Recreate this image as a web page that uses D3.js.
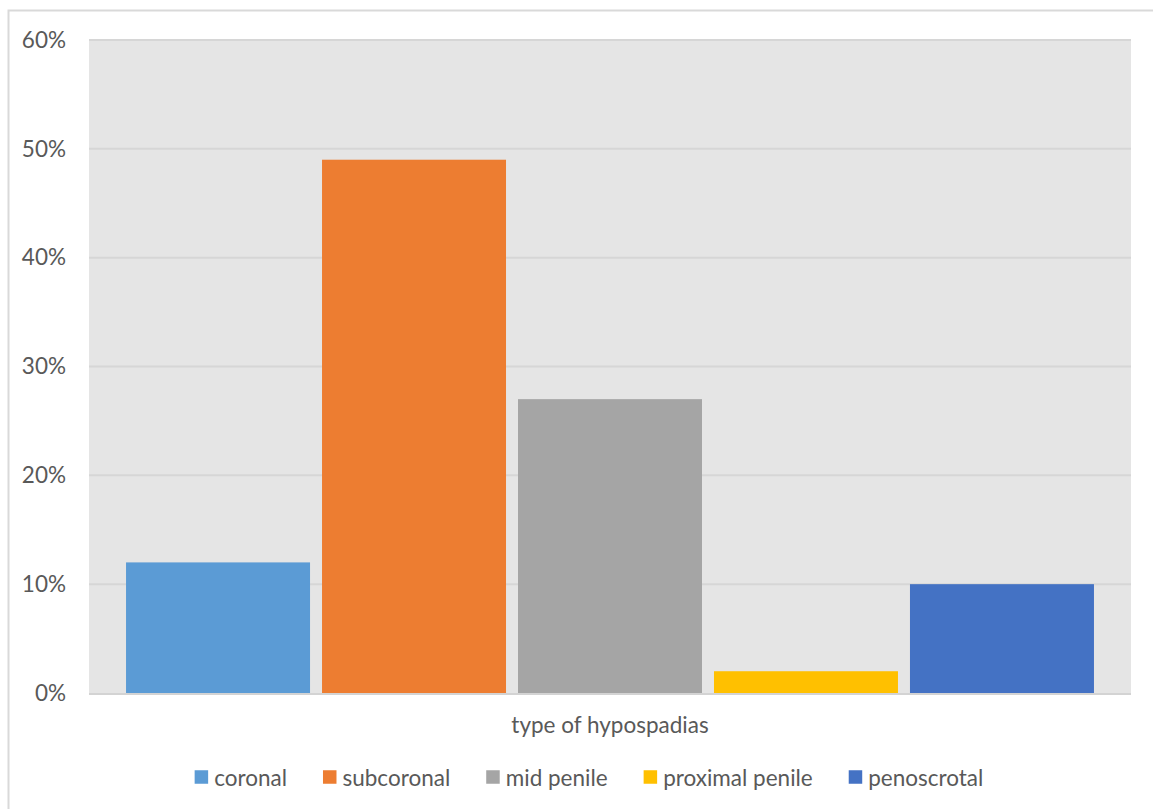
<!DOCTYPE html>
<html><head><meta charset="utf-8">
<script src="https://cdn.jsdelivr.net/npm/d3@7"></script>
<style>
html,body{margin:0;padding:0;background:#fff;}
svg{display:block;}
text{font-family:Lato,"Open Sans",sans-serif;fill:#595959;}
</style></head>
<body>
<svg id="chart" width="1153" height="809"></svg>
<script>
const categories = ["coronal","subcoronal","mid penile","proximal penile","penoscrotal"];
const values = [0.12, 0.49, 0.27, 0.02, 0.10];
const colors = ["#5B9BD5","#ED7D31","#A5A5A5","#FFC000","#4472C4"];
const yTicks = [0,0.1,0.2,0.3,0.4,0.5,0.6];
const axisTitle = "type of hypospadias";

const svg = d3.select("#chart");
const W = 1153, H = 809;
const plot = {left:89, right:1131, top:40, bottom:693};
const FS = 22.5;

// outer chart border
svg.append("rect").attr("x",8.5).attr("y",10.5).attr("width",W).attr("height",H)
  .attr("fill","#fff").attr("stroke","#d9d9d9").attr("stroke-width",2);

// plot area background
svg.append("rect").attr("x",plot.left).attr("y",plot.top)
  .attr("width",plot.right-plot.left).attr("height",plot.bottom-plot.top)
  .attr("fill","#e5e5e5");

const y = d3.scaleLinear().domain([0,0.6]).range([plot.bottom, plot.top]);
const x = d3.scaleBand().domain(categories).range([plot.left, plot.right])
  .paddingInner(0.0612).paddingOuter(0.189);

// gridlines
svg.append("g").selectAll("line").data(yTicks.filter(d=>d>0)).join("line")
  .attr("x1",plot.left).attr("x2",plot.right)
  .attr("y1",d=>y(d)).attr("y2",d=>y(d))
  .attr("stroke","#d6d6d6").attr("stroke-width",2);

// y axis labels
const yAxis = d3.axisLeft(y).tickValues(yTicks).tickFormat(d3.format(".0%")).tickSize(0).tickPadding(0);
const gy = svg.append("g").attr("transform",`translate(66,0)`).call(yAxis);
gy.select(".domain").remove();
gy.selectAll("text").attr("font-size",FS).attr("fill","#595959")
  .style("font-family","Lato,'Open Sans',sans-serif");

// bars
svg.append("g").selectAll("rect").data(categories).join("rect")
  .attr("x",d=>x(d)).attr("width",x.bandwidth())
  .attr("y",(d,i)=>y(values[i])).attr("height",(d,i)=>y(0)-y(values[i]))
  .attr("fill",(d,i)=>colors[i]);

// x axis baseline
svg.append("line").attr("x1",plot.left).attr("x2",plot.right)
  .attr("y1",plot.bottom+1).attr("y2",plot.bottom+1)
  .attr("stroke","#d3d3d3").attr("stroke-width",2);

// axis title
svg.append("text").attr("x",(plot.left+plot.right)/2).attr("y",724)
  .attr("text-anchor","middle").attr("dominant-baseline","central")
  .attr("font-size",FS).text(axisTitle);

// legend
const lg = svg.append("g");
const sq = 13.5, gapT = 6, gapItem = 36;
const items = lg.selectAll("g").data(categories).join("g");
items.append("rect").attr("width",sq).attr("height",sq).attr("y",-sq/2)
  .attr("fill",(d,i)=>colors[i]);
items.append("text").attr("x",sq+gapT).attr("y",0).attr("dominant-baseline","central")
  .attr("font-size",FS).text(d=>d);
let cx = 0; const pos = [];
items.each(function(){
  const w = sq+gapT+this.querySelector("text").getComputedTextLength();
  pos.push(cx); cx += w + gapItem;
});
const total = cx - gapItem;
const startX = 589 - total/2;
items.attr("transform",(d,i)=>`translate(${startX+pos[i]},777)`);
</script>
</body></html>
